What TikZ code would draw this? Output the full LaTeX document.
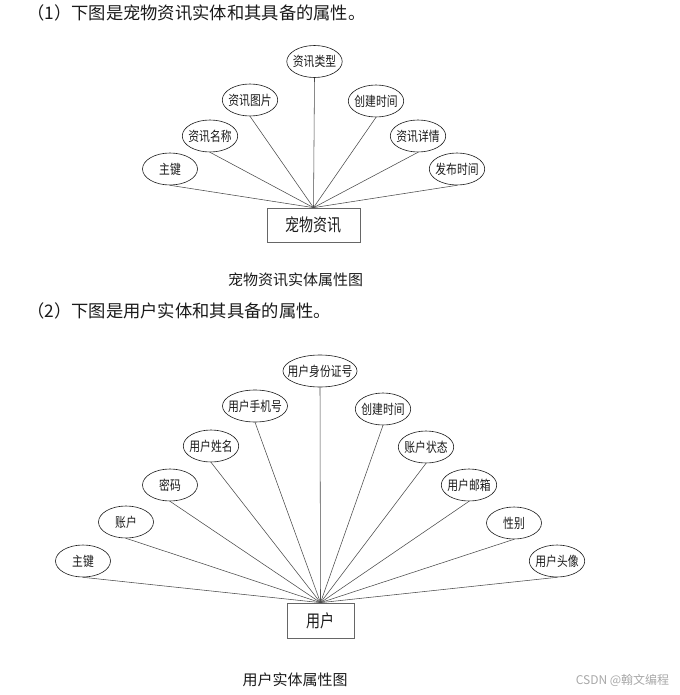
\documentclass[tikz,border=0pt]{standalone}
\usepackage{fontspec}
\setmainfont{Noto Sans CJK SC}
\newfontfamily\narrowcjk[FakeStretch=0.8]{Noto Sans CJK SC}
\usetikzlibrary{shapes.geometric}
\definecolor{ink}{HTML}{1A1A1A}
\definecolor{linegray}{HTML}{4A4A4A}
\definecolor{boxgray}{HTML}{666666}
\definecolor{markgray}{HTML}{A8A8A8}
\tikzset{
  attr/.style={ellipse,draw=ink,line width=0.6pt,inner ysep=0pt,minimum width=55,minimum height=32,text=ink,font=\narrowcjk\fontsize{13.5}{15}\selectfont},
  entity/.style={rectangle,draw=boxgray,line width=0.7pt,inner sep=0pt,minimum height=34,text=ink,font=\narrowcjk\fontsize{17.5}{19}\selectfont},
  link/.style={draw=linegray,line width=0.55pt},
  heading/.style={anchor=west,inner sep=0pt,text=ink,font=\fontsize{17.3}{19}\selectfont},
  figcap/.style={inner sep=0pt,text=ink,font=\fontsize{15}{17}\selectfont}
}

\begin{document}
\begin{tikzpicture}[x=1pt,y=-1pt]
  \useasboundingbox (0,0) rectangle (679,695);
  % part 1: pet news entity
  \node[heading] (head1) at (27,13) {（1）下图是宠物资讯实体和其具备的属性。};
  \node[entity,minimum width=93] (news) at (313.5,225) {宠物资讯};
  \foreach \nm/\px/\py/\xs/\txt in {zja/170/169/-2/主键,mca/210/136/-2/资讯名称,tpa/250/100/-2/资讯图片,
      lxa/314.5/61.5/-2/资讯类型,cja/376/101/-2/创建时间,xqa/418/136/-2/资讯详情,fba/457/169/-2/发布时间} {
    \node[attr,inner xsep=\xs pt] (\nm) at (\px,\py) {\txt};
    \draw[link] (news.north) -- (\nm.south);
  }
  \node[figcap] (cap1) at (295.5,280) {宠物资讯实体属性图};
  % part 2: user entity
  \node[heading] (head2) at (27,311) {（2）下图是用户实体和其具备的属性。};
  \node[entity,minimum width=67,minimum height=35] (user) at (320.5,620.5) {用户};
  \foreach \nm/\px/\py/\xs/\txt in {zjb/83/561/-2/主键,zhb/126/522/-2/账户,mmb/170/485/-2/密码,xmb/211/446/-2/用户姓名,
      sjb/255/406/-4/用户手机号,sfb/320/371/-6.2/用户身份证号,cjb/383/409/-2/创建时间,ztb/426/447/-2/账户状态,
      yxb/469/485/-2/用户邮箱,xbb/514/523/-2/性别,txb/557/561/-2/用户头像} {
    \node[attr,inner xsep=\xs pt] (\nm) at (\px,\py) {\txt};
    \draw[link] (user.north) -- (\nm.south);
  }
  \node[figcap] (cap2) at (295,680) {用户实体属性图};
  \node[inner sep=0pt,text=markgray,font=\fontsize{12}{14}\selectfont] (mark) at (622.5,680) {CSDN @翰文编程};
\end{tikzpicture}
\end{document}
